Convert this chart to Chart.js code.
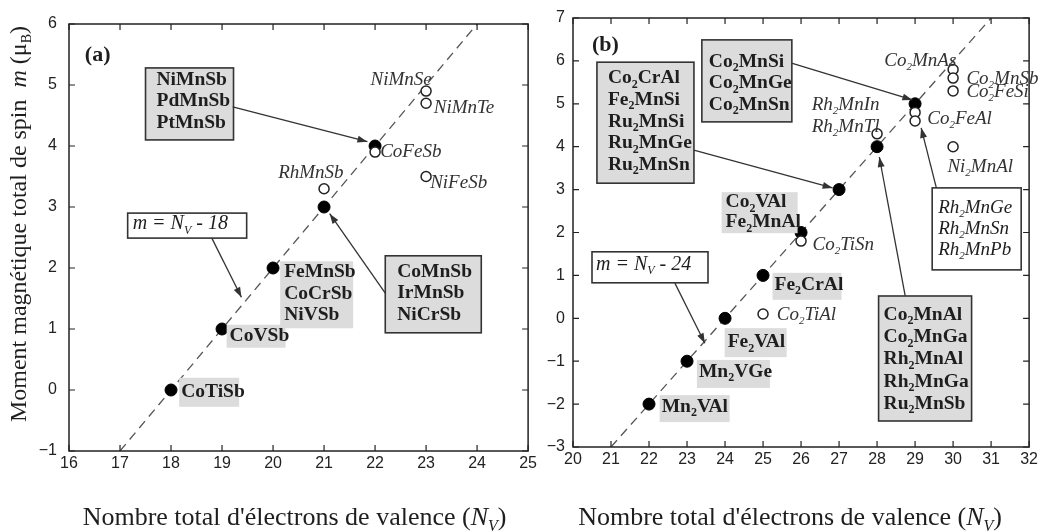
<!DOCTYPE html>
<html>
<head>
<meta charset="utf-8">
<script src="https://cdn.jsdelivr.net/npm/chart.js@4.4.1/dist/chart.umd.min.js"></script>
<style>
body { margin: 0; background: #fff; }
#wrap { position: relative; width: 1041px; height: 532px; overflow: hidden; }
canvas { position: absolute; top: 0; }
#ca { left: 0; }
#cb { left: 540px; }
</style>
</head>
<body>
<div id="wrap">
  <canvas id="ca" width="540" height="532"></canvas>
  <canvas id="cb" width="501" height="532"></canvas>
</div>
<script>
// ---- panneau (a) : composés semi-Heusler ----
var nvA = [18, 19, 20, 21, 22];
var mA = [0, 1, 2, 3, 4];
var nvA_ouvert = [21, 22, 23, 23, 23];
var mA_ouvert = [3.3, 3.9, 4.9, 4.7, 3.5];
var droiteA_x = [17, 24];
var droiteA_y = [-1, 6];

// ---- panneau (b) : composés Heusler complets ----
var nvB = [22, 23, 24, 25, 26, 27, 28, 29];
var mB = [-2, -1, 0, 1, 2, 3, 4, 5];
var nvB_ouvert = [25, 26, 28, 29, 29, 30, 30, 30, 30];
var mB_ouvert = [0.1, 1.8, 4.3, 4.8, 4.6, 5.8, 5.6, 5.3, 4.0];
var droiteB_x = [21, 31];
var droiteB_y = [-3, 7];

var SERIF = '"Liberation Serif", "Times New Roman", serif';
var GRIS = '#dcdcdc';
var ENCRE = '#1e1e1e';

// annotations (positions en unités des axes)
var annotA = {
    panneau: { at: [16.31, 5.49], t: '(a)' },
    boites: [
        { at: [17.50, 5.28], w: 88, h: 72, lignes: ['NiMnSb', 'PdMnSb', 'PtMnSb'], pad: 12, lh: 21.5, px: 11, fond: GRIS, bord: true, style: 'bold' },
        { at: [22.20, 2.20], w: 96, h: 77, lignes: ['CoMnSb', 'IrMnSb', 'NiCrSb'], pad: 16, lh: 21.5, px: 12, fond: GRIS, bord: true, style: 'bold' },
        { at: [20.14, 2.11], w: 73, h: 67, lignes: ['FeMnSb', 'CoCrSb', 'NiVSb'], pad: 11, lh: 21.5, px: 4, fond: GRIS, bord: false, style: 'bold' },
        { at: [19.09, 1.07], w: 59, h: 23, lignes: ['CoVSb'], pad: 11.5, lh: 21, px: 3, fond: GRIS, bord: false, style: 'bold' },
        { at: [18.16, 0.20], w: 60, h: 29, lignes: ['CoTiSb'], pad: 14, lh: 21, px: 2, fond: GRIS, bord: false, style: 'bold' },
        { at: [17.15, 2.90], w: 119, h: 25, lignes: ['m = N_V - 18'], pad: 11, lh: 21, px: 5, fond: '#fff', bord: true, style: 'italic', taille: 20 }
    ],
    fleches: [
        { de: [19.21, 4.64], a: [21.85, 4.07] },
        { de: [22.20, 1.59], a: [21.11, 2.89] },
        { de: [18.80, 2.49], a: [19.38, 1.52] }
    ],
    etiquettes: [
        { at: [20.10, 3.56], t: 'RhMnSb' },
        { at: [21.91, 5.08], t: 'NiMnSe' },
        { at: [23.15, 4.62], t: 'NiMnTe' },
        { at: [22.10, 3.90], t: 'CoFeSb' },
        { at: [23.08, 3.39], t: 'NiFeSb' }
    ],
    titreDx: -4,
    titreY: true
};

var annotB = {
    panneau: { at: [20.50, 6.37], t: '(b)' },
    boites: [
        { at: [20.63, 5.97], w: 97, h: 121, lignes: ['Co_2CrAl', 'Fe_2MnSi', 'Ru_2MnSi', 'Ru_2MnGe', 'Ru_2MnSn'], pad: 16, lh: 21.7, px: 11, fond: GRIS, bord: true, style: 'bold' },
        { at: [23.39, 6.49], w: 90, h: 82, lignes: ['Co_2MnSi', 'Co_2MnGe', 'Co_2MnSn'], pad: 22, lh: 21.5, px: 7, fond: GRIS, bord: true, style: 'bold' },
        { at: [28.04, 0.52], w: 93, h: 125, lignes: ['Co_2MnAl', 'Co_2MnGa', 'Rh_2MnAl', 'Rh_2MnGa', 'Ru_2MnSb'], pad: 19, lh: 22.2, px: 5, fond: GRIS, bord: true, style: 'bold' },
        { at: [29.45, 3.04], w: 89, h: 82, lignes: ['Rh_2MnGe', 'Rh_2MnSn', 'Rh_2MnPb'], pad: 20, lh: 21, px: 6, fond: '#fff', bord: true, style: 'italic' },
        { at: [23.91, 2.94], w: 76, h: 41, lignes: ['Co_2VAl', 'Fe_2MnAl'], pad: 10, lh: 20, px: 4, fond: GRIS, bord: false, style: 'bold' },
        { at: [25.25, 1.06], w: 69, h: 27, lignes: ['Fe_2CrAl'], pad: 12, lh: 21, px: 2, fond: GRIS, bord: false, style: 'bold' },
        { at: [23.99, -0.23], w: 62, h: 29, lignes: ['Fe_2VAl'], pad: 14, lh: 21, px: 3, fond: GRIS, bord: false, style: 'bold' },
        { at: [23.26, -0.97], w: 73, h: 28, lignes: ['Mn_2VGe'], pad: 12, lh: 21, px: 2, fond: GRIS, bord: false, style: 'bold' },
        { at: [22.28, -1.79], w: 70, h: 27, lignes: ['Mn_2VAl'], pad: 12, lh: 21, px: 2, fond: GRIS, bord: false, style: 'bold' },
        { at: [20.50, 1.55], w: 116, h: 31, lignes: ['m = N_V - 24'], pad: 13, lh: 21, px: 4, fond: '#fff', bord: true, style: 'italic', taille: 20 }
    ],
    fleches: [
        { de: [23.18, 3.92], a: [26.83, 3.04] },
        { de: [25.75, 5.95], a: [28.93, 5.09] },
        { de: [22.68, 0.82], a: [23.47, -0.58] },
        { de: [29.56, 3.04], a: [29.16, 4.44] },
        { de: [28.74, 0.52], a: [28.06, 3.76] }
    ],
    etiquettes: [
        { at: [28.19, 6.00], t: 'Co_2MnAs' },
        { at: [30.35, 5.58], t: 'Co_2MnSb' },
        { at: [30.35, 5.28], t: 'Co_2FeSi' },
        { at: [29.32, 4.65], t: 'Co_2FeAl' },
        { at: [29.85, 3.53], t: 'Ni_2MnAl' },
        { at: [26.28, 4.97], t: 'Rh_2MnIn' },
        { at: [26.28, 4.46], t: 'Rh_2MnTl' },
        { at: [26.30, 1.71], t: 'Co_2TiSn' },
        { at: [25.36, 0.08], t: 'Co_2TiAl' }
    ],
    titreDx: -11,
    titreY: false
};

// texte avec indices (_X) et styles par segment
function decoupe(str, style) {
    var it = style === 'italic', b = style === 'bold';
    return str.split(/(_.)/).filter(Boolean).map(function(p) {
        return p[0] === '_' ? { t: p[1], it: it, b: b, sub: true } : { t: p, it: it, b: b };
    });
}

function texte(ctx, segs, x, y, size, align) {
    var f = function(s) {
        return (s.it ? 'italic ' : '') + (s.b ? 'bold ' : '') + (s.sub ? Math.round(size * 0.6) : size) + 'px ' + SERIF;
    };
    var w = 0;
    segs.forEach(function(s) { ctx.font = f(s); s.w = ctx.measureText(s.t).width; w += s.w; });
    var cx = align === 'center' ? x - w / 2 : x;
    ctx.textAlign = 'left';
    ctx.textBaseline = 'middle';
    segs.forEach(function(s) {
        ctx.font = f(s);
        ctx.fillText(s.t, cx, s.sub ? y + size * 0.32 : y);
        cx += s.w;
    });
    return w;
}

function fleche(ctx, x0, y0, x1, y1) {
    ctx.beginPath();
    ctx.moveTo(x0, y0);
    ctx.lineTo(x1, y1);
    ctx.stroke();
    var a = Math.atan2(y1 - y0, x1 - x0), L = 10, W = 3.5;
    ctx.beginPath();
    ctx.moveTo(x1, y1);
    ctx.lineTo(x1 - L * Math.cos(a) + W * Math.sin(a), y1 - L * Math.sin(a) - W * Math.cos(a));
    ctx.lineTo(x1 - L * Math.cos(a) - W * Math.sin(a), y1 - L * Math.sin(a) + W * Math.cos(a));
    ctx.closePath();
    ctx.fill();
}

function makeAnnot(cfg) {
    return {
        id: 'annot',
        afterDatasetsDraw: function(chart) {
            var ctx = chart.ctx, sx = chart.scales.x, sy = chart.scales.y;
            var P = function(p) { return [sx.getPixelForValue(p[0]), sy.getPixelForValue(p[1])]; };
            ctx.save();

            cfg.boites.forEach(function(b) {
                var p = P(b.at);
                if (b.fond) { ctx.fillStyle = b.fond; ctx.fillRect(p[0], p[1], b.w, b.h); }
                if (b.bord) { ctx.strokeStyle = '#333'; ctx.lineWidth = 1.6; ctx.strokeRect(p[0], p[1], b.w, b.h); }
                ctx.fillStyle = ENCRE;
                b.lignes.forEach(function(l, i) {
                    texte(ctx, decoupe(l, b.style), p[0] + b.px, p[1] + b.pad + i * b.lh, b.taille || (b.style === 'bold' ? 19.5 : 19), 'left');
                });
            });

            ctx.strokeStyle = '#333';
            ctx.fillStyle = '#333';
            ctx.lineWidth = 1.3;
            cfg.fleches.forEach(function(f) {
                var a = P(f.de), b = P(f.a);
                fleche(ctx, a[0], a[1], b[0], b[1]);
            });

            ctx.fillStyle = '#333';
            cfg.etiquettes.forEach(function(e) {
                var p = P(e.at);
                texte(ctx, decoupe(e.t, 'italic'), p[0], p[1], 19, 'left');
            });

            ctx.fillStyle = ENCRE;
            var pp = P(cfg.panneau.at);
            texte(ctx, [{ t: cfg.panneau.t, b: true }], pp[0], pp[1], 22, 'left');
            ctx.restore();
        },
        afterDraw: function(chart) {
            var ctx = chart.ctx, a = chart.chartArea, sx = chart.scales.x, sy = chart.scales.y;
            ctx.save();
            ctx.strokeStyle = '#222';
            ctx.lineWidth = 1.5;
            ctx.strokeRect(a.left, a.top, a.right - a.left, a.bottom - a.top);
            ctx.lineWidth = 1.2;
            ctx.beginPath();
            sx.ticks.forEach(function(t) {
                var x = sx.getPixelForValue(t.value);
                ctx.moveTo(x, a.bottom); ctx.lineTo(x, a.bottom - 6);
                ctx.moveTo(x, a.top); ctx.lineTo(x, a.top + 6);
            });
            sy.ticks.forEach(function(t) {
                var y = sy.getPixelForValue(t.value);
                ctx.moveTo(a.left, y); ctx.lineTo(a.left + 6, y);
                ctx.moveTo(a.right, y); ctx.lineTo(a.right - 6, y);
            });
            ctx.stroke();

            // titre de l'axe des abscisses
            ctx.fillStyle = ENCRE;
            texte(ctx, [
                { t: "Nombre total d'électrons de valence (" },
                { t: 'N', it: true },
                { t: 'V', it: true, sub: true },
                { t: ')' }
            ], (a.left + a.right) / 2 + cfg.titreDx, 518, 26, 'center');

            // titre de l'axe des ordonnées
            if (cfg.titreY) {
                ctx.translate(20, 224);
                ctx.rotate(-Math.PI / 2);
                texte(ctx, [
                    { t: 'Moment magnétique total de spin  ' },
                    { t: 'm', it: true },
                    { t: ' (μ' },
                    { t: 'B', sub: true },
                    { t: ')' }
                ], 0, 0, 24, 'center');
            }
            ctx.restore();
        }
    };
}

function points(xs, ys) {
    return xs.map(function(x, i) { return { x: x, y: ys[i] }; });
}

function makeChart(id, o) {
    return new Chart(document.getElementById(id), {
        type: 'scatter',
        data: {
            datasets: [
                { data: points(o.fx, o.fy), pointRadius: 6, pointBackgroundColor: '#000', pointBorderColor: '#000', pointBorderWidth: 1, order: 2 },
                { data: points(o.ox, o.oy), pointRadius: 5, pointBackgroundColor: '#fff', pointBorderColor: '#222', pointBorderWidth: 1.5, order: 1 },
                { data: points(o.lx, o.ly), showLine: true, borderColor: '#555', borderWidth: 1.3, borderDash: [9, 6], pointRadius: 0, order: 3 }
            ]
        },
        options: {
            responsive: false,
            animation: false,
            events: [],
            layout: { padding: o.padding },
            plugins: { legend: { display: false }, tooltip: { enabled: false } },
            scales: {
                x: {
                    type: 'linear', min: o.xmin, max: o.xmax,
                    grid: { display: false, drawTicks: false },
                    border: { display: false },
                    ticks: { stepSize: 1, padding: 3, color: '#222', font: { family: '"Liberation Sans", Arial, sans-serif', size: 16 } },
                    afterFit: function(s) { s.height = o.hx; }
                },
                y: {
                    min: o.ymin, max: o.ymax,
                    grid: { display: false, drawTicks: false },
                    border: { display: false },
                    ticks: {
                        stepSize: 1, padding: o.ypad, color: '#222',
                        font: { family: '"Liberation Sans", Arial, sans-serif', size: 16 },
                        callback: function(v) { return String(v).replace('-', '\u2212'); }
                    },
                    afterFit: function(s) { s.width = o.wy; }
                }
            }
        },
        plugins: [makeAnnot(o.annot)]
    });
}

makeChart('ca', {
    fx: nvA, fy: mA, ox: nvA_ouvert, oy: mA_ouvert, lx: droiteA_x, ly: droiteA_y,
    xmin: 16, xmax: 25, ymin: -1, ymax: 6,
    padding: { left: 0, top: 24, right: 8, bottom: 0 },
    hx: 81, wy: 69, ypad: 12, annot: annotA
});

makeChart('cb', {
    fx: nvB, fy: mB, ox: nvB_ouvert, oy: mB_ouvert, lx: droiteB_x, ly: droiteB_y,
    xmin: 20, xmax: 32, ymin: -3, ymax: 7,
    padding: { left: 0, top: 18, right: 11, bottom: 0 },
    hx: 85, wy: 33, ypad: 8, annot: annotB
});
</script>
</body>
</html>
